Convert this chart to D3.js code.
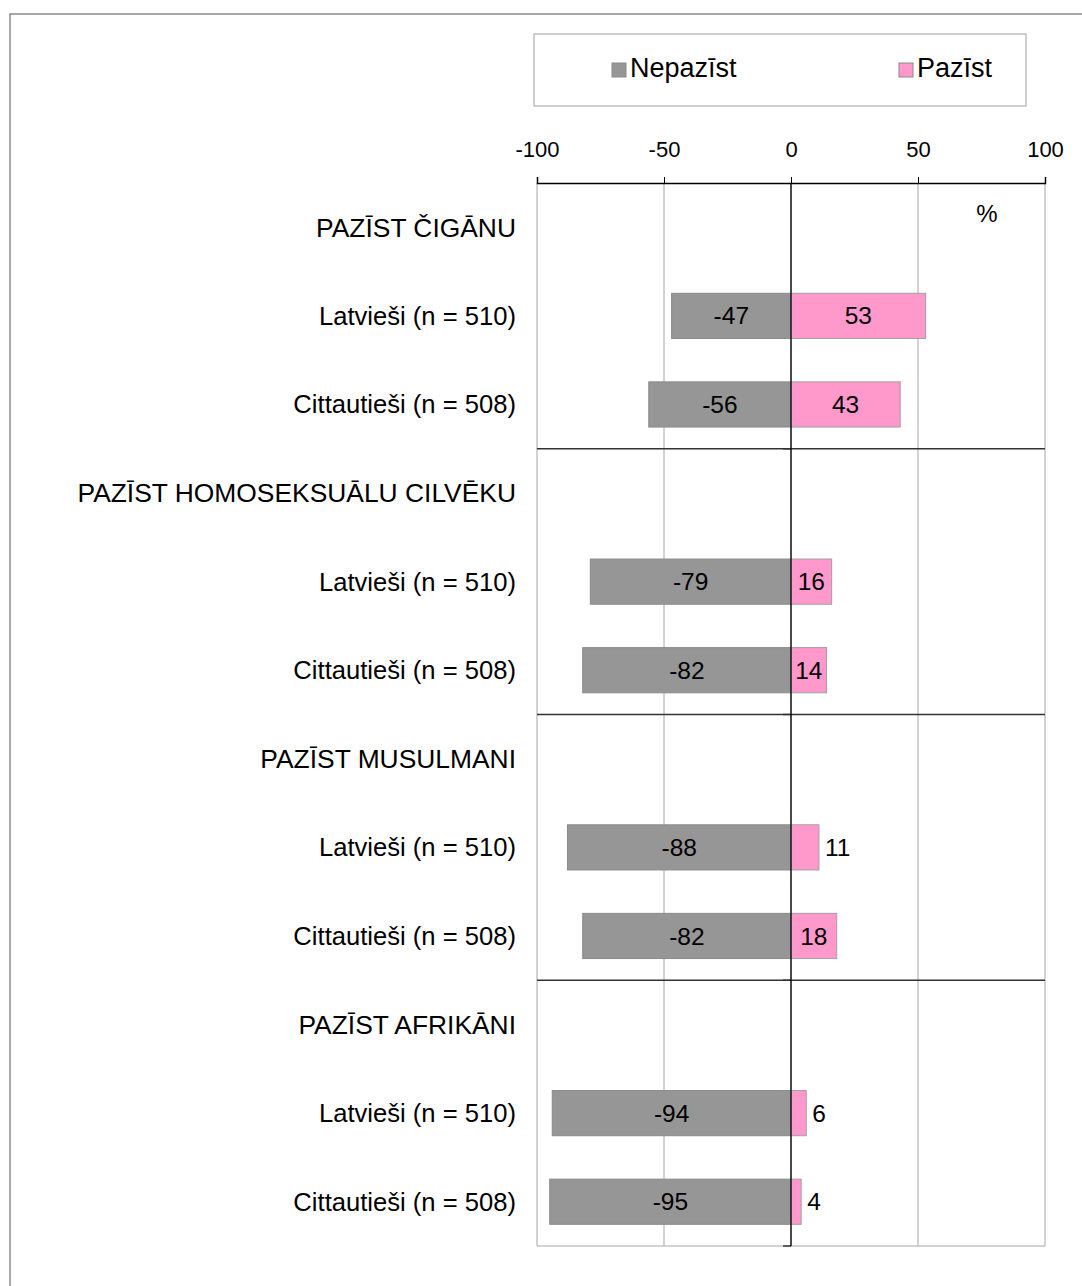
<!DOCTYPE html>
<html>
  <head>
    <meta charset="UTF-8" />
    <style>
      body { margin: 0; background: #fff; }
      text { font-family: "Liberation Sans", Arial, sans-serif; fill: #000; }
    </style>
  </head>
  <body>
    <svg></svg>
    <script src="https://d3js.org/d3.v7.min.js"></script>
    <script>
      let width = 1082,
        height = 1286;

      // data
      const groups = ["PAZĪST ČIGĀNU", "PAZĪST HOMOSEKSUĀLU CILVĒKU", "PAZĪST MUSULMANI", "PAZĪST AFRIKĀNI"];
      const subgroups = ["Latvieši (n = 510)", "Cittautieši (n = 508)"];
      const nepazist = [-47, -56, -79, -82, -88, -82, -94, -95];
      const pazist = [53, 43, 16, 14, 11, 18, 6, 4];
      const ticks = [-100, -50, 0, 50, 100];
      const legendLabels = ["Nepazīst", "Pazīst"];

      const grey = "#969696", pink = "#ff99cc";

      let svg = d3.select("svg").attr("width", width).attr("height", height);

      // outer frame (runs off the page right and bottom)
      svg.append("rect")
        .attr("x", 10).attr("y", 14)
        .attr("width", 1200).attr("height", 1400)
        .attr("fill", "none").attr("stroke", "#8c8c8c").attr("stroke-width", 1.5);

      // rows: a header row then two subgroup rows per group
      let rows = [];
      groups.forEach((g, gi) => {
        rows.push({ key: "h" + gi, label: g, header: true });
        subgroups.forEach((s, si) => {
          let i = gi * 2 + si;
          rows.push({ key: "r" + i, label: s, neg: nepazist[i], pos: pazist[i] });
        });
      });

      let x = d3.scaleLinear().domain([-100, 100]).range([537, 1045]);
      let y = d3.scaleBand().domain(rows.map((d) => d.key)).range([183, 1246]);
      let barH = y.bandwidth() * 0.51;

      // grid
      svg.append("g").selectAll("line")
        .data(ticks)
        .join("line")
        .attr("x1", (d) => x(d)).attr("x2", (d) => x(d))
        .attr("y1", 183).attr("y2", 1246)
        .attr("stroke", "#a6a6a6").attr("stroke-width", 1);
      svg.append("line")
        .attr("x1", x(-100)).attr("x2", x(100))
        .attr("y1", 1246).attr("y2", 1246)
        .attr("stroke", "#a6a6a6");

      // section separators
      let seps = groups.slice(1).map((g, i) => y("h" + (i + 1)));
      svg.append("g").selectAll("line")
        .data(seps)
        .join("line")
        .attr("x1", x(-100)).attr("x2", x(100))
        .attr("y1", (d) => d).attr("y2", (d) => d)
        .attr("stroke", "#333").attr("stroke-width", 1.3);
      svg.append("g").selectAll("line")
        .data(seps.concat([1246]))
        .join("line")
        .attr("x1", x(0) - 8).attr("x2", x(0))
        .attr("y1", (d) => d).attr("y2", (d) => d)
        .attr("stroke", "#333").attr("stroke-width", 1.5);

      let data = rows.filter((d) => !d.header);

      // bars
      let bars = svg.append("g");
      bars.selectAll("rect.neg")
        .data(data)
        .join("rect")
        .attr("class", "neg")
        .attr("x", (d) => x(d.neg)).attr("width", (d) => x(0) - x(d.neg))
        .attr("y", (d) => y(d.key) + (y.bandwidth() - barH) / 2).attr("height", barH)
        .attr("fill", grey).attr("stroke", "#8a8a8a");
      bars.selectAll("rect.pos")
        .data(data)
        .join("rect")
        .attr("class", "pos")
        .attr("x", x(0)).attr("width", (d) => x(d.pos) - x(0))
        .attr("y", (d) => y(d.key) + (y.bandwidth() - barH) / 2).attr("height", barH)
        .attr("fill", pink).attr("stroke", "#a0a0a0");

      // zero line
      svg.append("line")
        .attr("x1", x(0)).attr("x2", x(0))
        .attr("y1", 183).attr("y2", 1246)
        .attr("stroke", "#000").attr("stroke-width", 1.3);

      // value labels
      svg.append("g").selectAll("text")
        .data(data)
        .join("text")
        .attr("x", (d) => (x(d.neg) + x(0)) / 2)
        .attr("y", (d) => y(d.key) + y.bandwidth() / 2)
        .attr("dy", "0.35em")
        .attr("text-anchor", "middle")
        .attr("font-size", 24.5)
        .text((d) => d.neg);
      svg.append("g").selectAll("text")
        .data(data)
        .join("text")
        .attr("x", (d) => (d.pos >= 14 ? (x(d.pos) + x(0)) / 2 : x(d.pos) + 6))
        .attr("y", (d) => y(d.key) + y.bandwidth() / 2)
        .attr("dy", "0.35em")
        .attr("text-anchor", (d) => (d.pos >= 14 ? "middle" : "start"))
        .attr("font-size", 24.5)
        .text((d) => d.pos);

      // category labels
      svg.append("g").selectAll("text")
        .data(rows)
        .join("text")
        .attr("x", 516)
        .attr("y", (d) => y(d.key) + y.bandwidth() / 2)
        .attr("dy", "0.35em")
        .attr("text-anchor", "end")
        .attr("font-size", (d) => (d.header ? 26.4 : 25.6))
        .text((d) => d.label);

      // top axis
      let axis = svg.append("g")
        .attr("transform", "translate(0,183)")
        .call(d3.axisTop(x).tickValues(ticks).tickSize(6).tickPadding(20).tickFormat((d) => String(d)));
      axis.select(".domain").attr("stroke", "#000").attr("stroke-width", 1.5);
      axis.selectAll(".tick line").attr("stroke", "#000");
      axis.selectAll(".tick text")
        .attr("font-family", "'Liberation Sans', Arial, sans-serif")
        .attr("font-size", 22)
        .attr("fill", "#000");

      svg.append("text")
        .attr("x", 987).attr("y", 222)
        .attr("text-anchor", "middle")
        .attr("font-size", 24)
        .text("%");

      // legend
      let legend = svg.append("g");
      legend.append("rect")
        .attr("x", 534).attr("y", 34).attr("width", 492).attr("height", 72)
        .attr("fill", "#fff").attr("stroke", "#a0a0a0").attr("stroke-width", 1);
      let lx = [612, 899];
      [grey, pink].forEach((c, i) => {
        legend.append("rect")
          .attr("x", lx[i]).attr("y", 63).attr("width", 14).attr("height", 14)
          .attr("fill", c).attr("stroke", "#8a8a8a");
        legend.append("text")
          .attr("x", lx[i] + 18).attr("y", 77)
          .attr("font-size", 27)
          .text(legendLabels[i]);
      });
    </script>
  </body>
</html>
